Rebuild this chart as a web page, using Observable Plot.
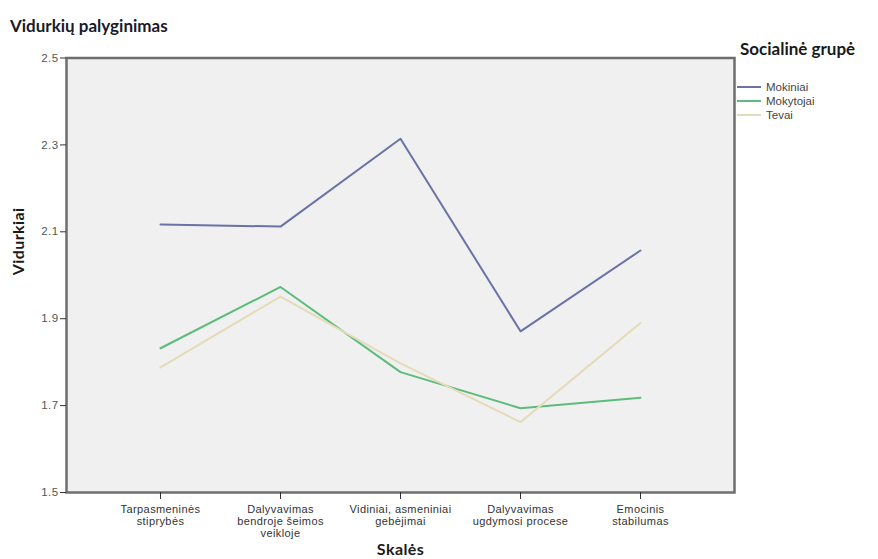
<!DOCTYPE html>
<html><head><meta charset="utf-8">
<script src="https://cdn.jsdelivr.net/npm/d3@7"></script>
<script src="https://cdn.jsdelivr.net/npm/@observablehq/plot@0.6"></script>
<style>
body{margin:0;background:#fff;}
#wrap{position:relative;width:878px;height:559px;overflow:hidden;}
#title{position:absolute;left:10px;top:15px;font:bold 17px Lato, "Open Sans", sans-serif;color:#1a1a2a;white-space:nowrap;}
#legTitle{position:absolute;left:740px;top:38px;font:bold 17px Lato, "Open Sans", sans-serif;color:#1a1a1a;white-space:nowrap;}
#legend{position:absolute;left:737px;top:80px;font:11.5px "Liberation Sans", Arial, sans-serif;color:#444;}
.li{display:flex;align-items:center;height:14px;}
.sw{width:24px;height:0;border-top:2px solid;margin-right:5px;}
#chart{position:absolute;left:0;top:0;}
#chart svg text{letter-spacing:0.4px;}
</style></head>
<body>
<div id="wrap">
  <div id="chart"></div>
  <div id="title">Vidurkių palyginimas</div>
  <div id="legTitle">Socialinė grupė</div>
  <div id="legend"></div>
</div>
<script>
const categories = ["Tarpasmeninės\nstiprybės", "Dalyvavimas\nbendroje šeimos\nveikloje", "Vidiniai, asmeniniai\ngebėjimai", "Dalyvavimas\nugdymosi procese", "Emocinis\nstabilumas"];
const groups = ["Mokiniai", "Mokytojai", "Tevai"];
const colors = ["#6a72a6", "#5cbc7c", "#e4dbb8"];
const mokiniai = [2.117, 2.112, 2.314, 1.871, 2.057];
const mokytojai = [1.832, 1.973, 1.777, 1.694, 1.718];
const tevai = [1.788, 1.951, 1.797, 1.662, 1.890];
const yTicks = [1.5, 1.7, 1.9, 2.1, 2.3, 2.5];

const series = [mokiniai, mokytojai, tevai];
const data = [];
groups.forEach((g, gi) => series[gi].forEach((v, i) => data.push({group: g, cat: categories[i], value: v})));

const chart = Plot.plot({
  width: 878, height: 559,
  marginTop: 57.5, marginBottom: 67, marginLeft: 66, marginRight: 144,
  style: {fontFamily: "'Liberation Sans', Arial, sans-serif", background: "transparent"},
  x: {type: "point", domain: categories, padding: 0.783},
  y: {domain: [1.5, 2.5]},
  color: {domain: groups, range: colors},
  marks: [
    Plot.frame({fill: "#f0f0f0", stroke: null}),
    Plot.lineY(data, {x: "cat", y: "value", z: "group", stroke: "group", strokeWidth: 2}),
    Plot.frame({stroke: "#6e6e6e", strokeWidth: 2.5}),
    Plot.axisY({ticks: yTicks, tickSize: 6, tickPadding: 2, tickFormat: d3.format(".1f"), fontSize: 11.5, color: "#555", stroke: "#333", label: null}),
    Plot.axisX({tickSize: 7, tickPadding: 5, fontSize: 11, lineHeight: 1.1, color: "#333", stroke: "#333", label: null}),
    Plot.text(["Vidurkiai"], {frameAnchor: "left", dx: -48, rotate: -90, fontSize: 16, fontWeight: "bold", fill: "#1a1a1a", fontFamily: "Lato, 'Open Sans', sans-serif"}),
    Plot.text(["Skalės"], {frameAnchor: "bottom", dy: 57, fontSize: 16, fontWeight: "bold", fill: "#1a1a1a", lineAnchor: "middle", fontFamily: "Lato, 'Open Sans', sans-serif"})
  ]
});
document.getElementById("chart").appendChild(chart);

const leg = document.getElementById("legend");
groups.forEach((g, i) => {
  const row = document.createElement("div"); row.className = "li";
  const sw = document.createElement("div"); sw.className = "sw"; sw.style.borderTopColor = colors[i];
  const t = document.createElement("span"); t.textContent = g;
  row.appendChild(sw); row.appendChild(t); leg.appendChild(row);
});
</script>
</body></html>
